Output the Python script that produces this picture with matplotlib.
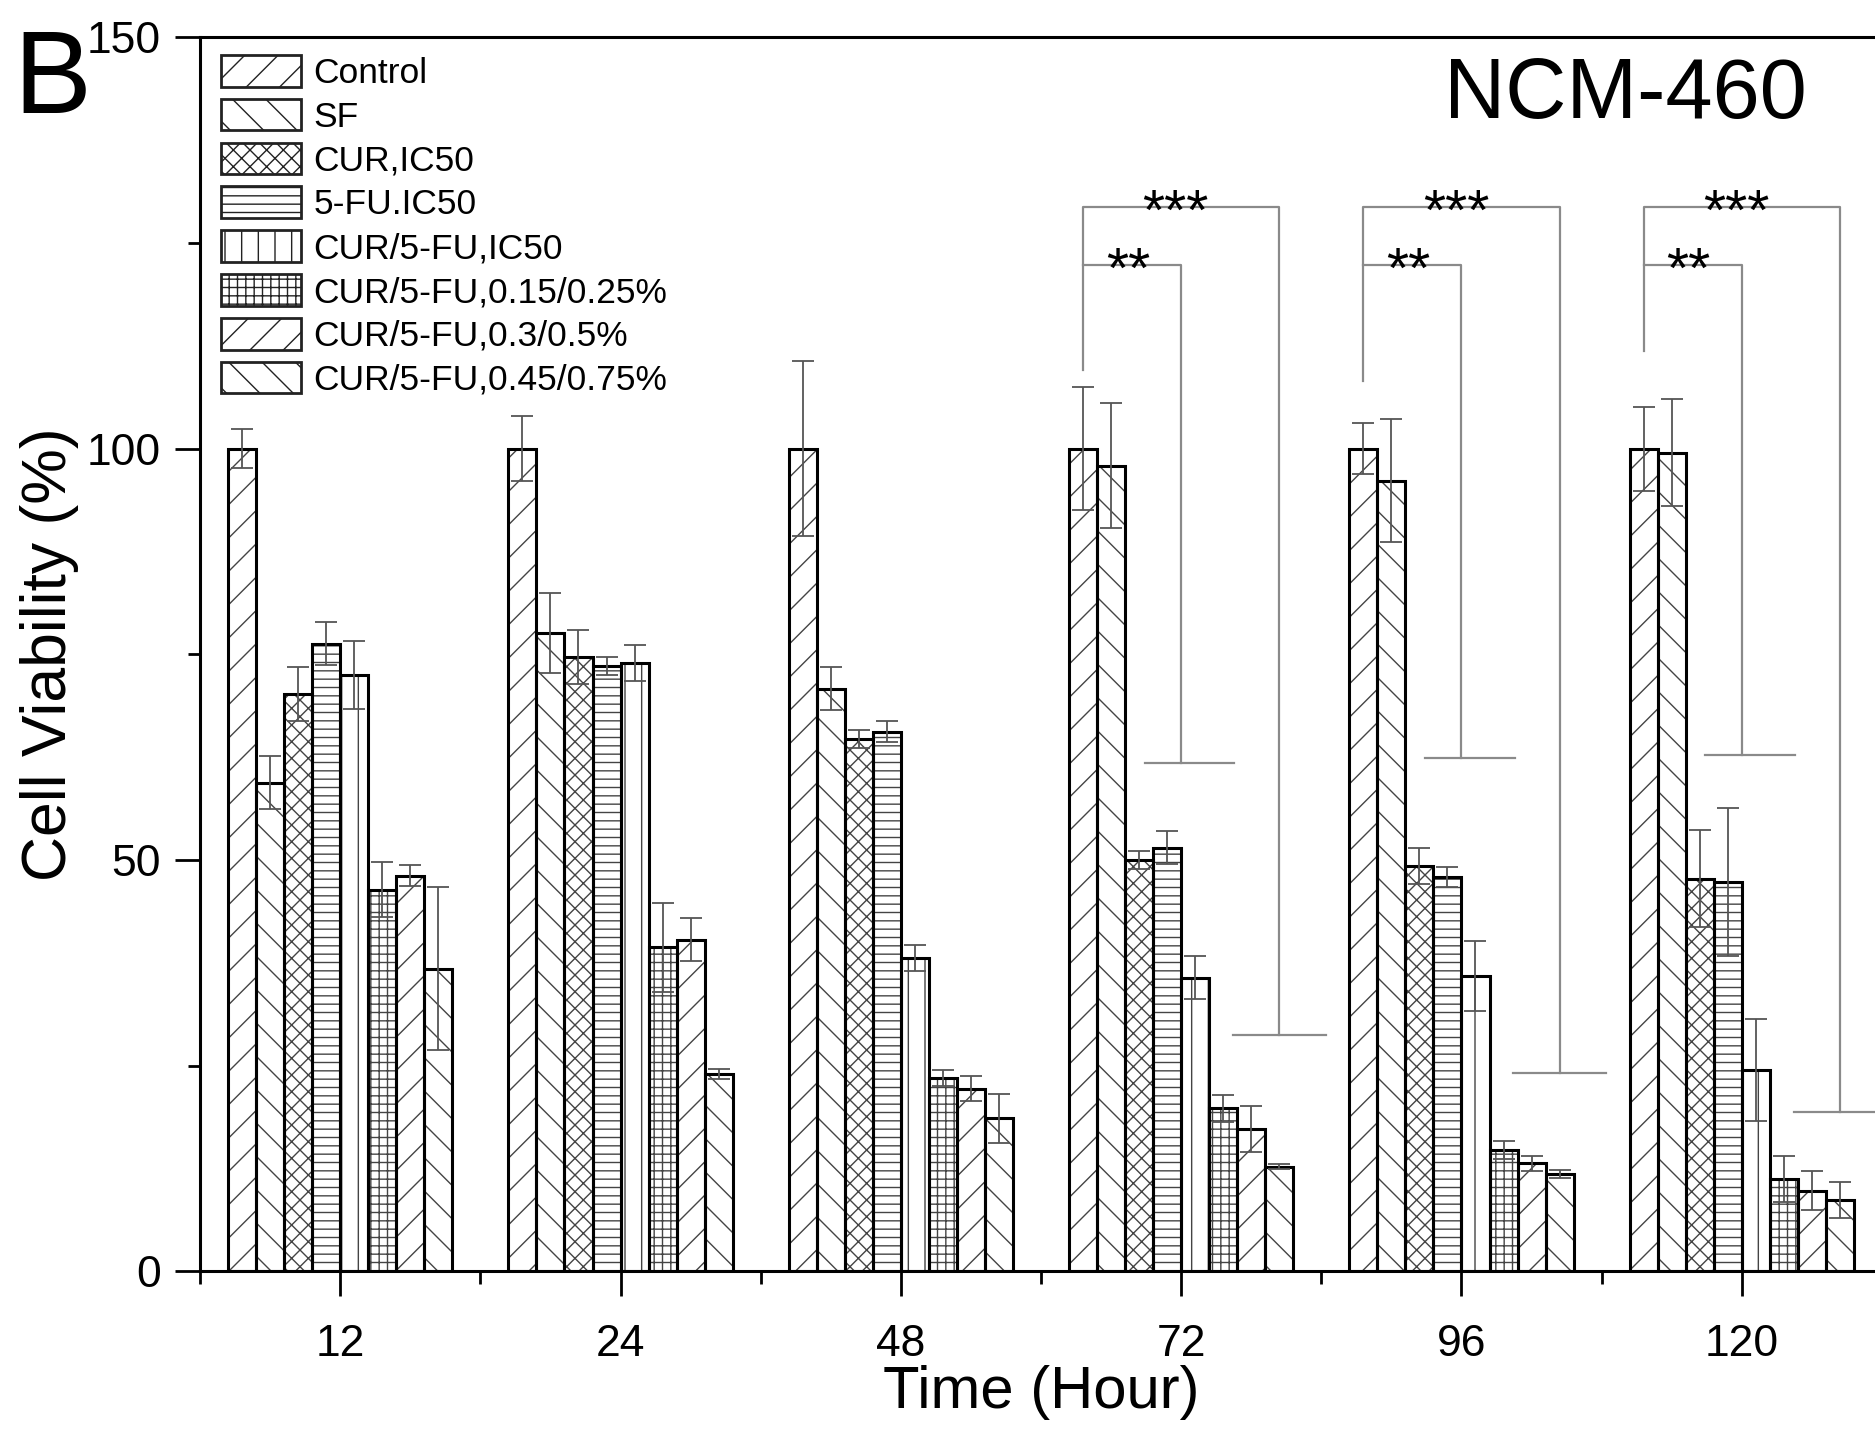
import matplotlib
matplotlib.use("Agg")
import matplotlib.pyplot as plt
from matplotlib.patches import Patch
import numpy as np

plt.rcParams['font.family'] = ['Liberation Sans', 'DejaVu Sans']
plt.rcParams['hatch.linewidth'] = 1.0

times = ['12', '24', '48', '72', '96', '120']
groups = ['Control', 'SF', 'CUR,IC50', '5-FU.IC50', 'CUR/5-FU,IC50',
          'CUR/5-FU,0.15/0.25%', 'CUR/5-FU,0.3/0.5%', 'CUR/5-FU,0.45/0.75%']
hatches = ['/', '\\', 'xx', '--', '|', '++', '/', '\\']

# viability per group, one value per time point
control = [100, 100, 100, 100, 100, 100]
sf = [59.4, 77.6, 70.8, 97.9, 96.1, 99.5]
cur = [70.2, 74.7, 64.7, 50.0, 49.3, 47.7]
fu = [76.3, 73.6, 65.6, 51.5, 47.9, 47.3]
combo_ic50 = [72.5, 73.9, 38.1, 35.7, 35.9, 24.5]
combo_low = [46.4, 39.4, 23.5, 19.8, 14.7, 11.2]
combo_mid = [48.1, 40.3, 22.2, 17.3, 13.1, 9.8]
combo_high = [36.8, 24.0, 18.6, 12.7, 11.8, 8.7]

control_err = [2.4, 4.0, 10.6, 7.5, 3.1, 5.1]
sf_err = [3.2, 4.9, 2.6, 7.6, 7.5, 6.5]
cur_err = [3.3, 3.3, 1.1, 1.1, 2.2, 5.9]
fu_err = [2.6, 1.1, 1.3, 2.0, 1.2, 9.0]
combo_ic50_err = [4.1, 2.2, 1.6, 2.6, 4.3, 6.2]
combo_low_err = [3.4, 5.4, 1.0, 1.6, 1.1, 2.8]
combo_mid_err = [1.3, 2.6, 1.5, 2.8, 0.9, 2.4]
combo_high_err = [9.9, 0.6, 3.0, 0.3, 0.5, 2.2]

values = [control, sf, cur, fu, combo_ic50, combo_low, combo_mid, combo_high]
errors = [control_err, sf_err, cur_err, fu_err, combo_ic50_err,
          combo_low_err, combo_mid_err, combo_high_err]

# significance brackets for 72, 96, 120 h
sig_times = [4, 5, 6]
outer_drop = [28.7, 24.1, 19.4]
inner_drop = [61.8, 62.4, 62.7]
left_bottom = [109.6, 108.2, 111.8]

fig = plt.figure(figsize=(18.75, 14.3), dpi=100)
ax = fig.add_axes([0.1067, 0.111, 0.897, 0.863])

pos = np.arange(1, len(times) + 1)
w = 0.1
for i in range(len(groups)):
    x = pos + (i - 3.5) * w
    ax.bar(x, values[i], w, color='white', edgecolor='#444444', linewidth=0,
           hatch=hatches[i], zorder=2)
    ax.bar(x, values[i], w, fill=False, edgecolor='black', linewidth=2.2, zorder=3)
    ax.errorbar(x, values[i], yerr=errors[i], fmt='none', ecolor='#555555',
                elinewidth=1.3, capsize=8, capthick=1.3, zorder=4)

gc = '#8a8a8a'
for k, g in enumerate(sig_times):
    l = g - 0.35
    r = g + 0.35
    m = g
    ax.plot([l, l, r, r], [left_bottom[k], 129.4, 129.4, outer_drop[k]], color=gc, lw=1.6, zorder=1)
    ax.plot([r - 0.165, r + 0.165], [outer_drop[k]] * 2, color=gc, lw=1.6, zorder=1)
    ax.plot([l, m, m], [122.3, 122.3, inner_drop[k]], color=gc, lw=1.6, zorder=1)
    ax.plot([m - 0.13, m + 0.19], [inner_drop[k]] * 2, color=gc, lw=1.6, zorder=1)
    ax.text(g - 0.02, 126.6, '***', ha='center', va='baseline', fontsize=41)
    ax.text(g - 0.19, 119.5, '**', ha='center', va='baseline', fontsize=41)

ax.set_xlim(0.5, 6.5)
ax.set_ylim(0, 150)
ax.set_xticks(pos)
ax.set_xticklabels(times)
ax.set_xticks(np.arange(0.5, 7, 1), minor=True)
ax.set_yticks([0, 50, 100, 150])
ax.set_yticks([25, 75, 125], minor=True)
ax.tick_params(axis='both', which='major', direction='out', length=18, width=2,
               labelsize=32)
ax.tick_params(axis='both', which='minor', direction='out', length=9, width=2)
ax.tick_params(axis='x', which='major', pad=20)
ax.tick_params(axis='y', which='major', pad=10)
for s in ['left', 'bottom', 'top']:
    ax.spines[s].set_linewidth(2.2)
ax.spines['right'].set_visible(False)

ax.set_xlabel('Time (Hour)', fontsize=43, labelpad=0)
ax.set_ylabel('Cell Viability (%)', fontsize=45, labelpad=6)

handles = [Patch(facecolor='white', edgecolor='#222222', hatch=h, linewidth=2)
           for h in hatches]
ax.legend(handles, groups, loc='upper left', bbox_to_anchor=(0.002, 1.0),
          frameon=False, fontsize=25.5, handlelength=2.25, handleheight=1.0,
          handletextpad=0.35, labelspacing=0.25, borderaxespad=0.1)

ax.text(0.955, 0.985, 'NCM-460', transform=ax.transAxes, ha='right', va='top',
        fontsize=61)
fig.text(0.028, 0.942, 'B', fontsize=84, ha='center', va='center')

fig.savefig('out.png', dpi=100)
